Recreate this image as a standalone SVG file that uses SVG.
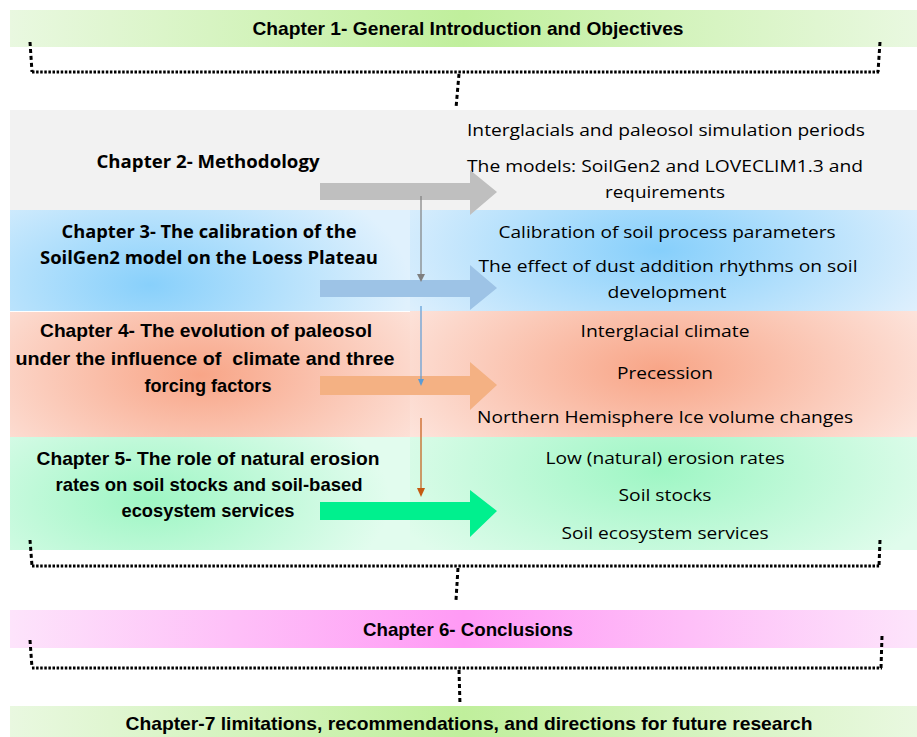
<svg xmlns="http://www.w3.org/2000/svg" width="917" height="737" viewBox="0 0 917 737">
<defs>
<linearGradient id="gGreen" x1="0" y1="0" x2="1" y2="0">
<stop offset="0" stop-color="#e9f8e0"/><stop offset="0.5" stop-color="#c0ef9c"/><stop offset="1" stop-color="#e9f8e0"/>
</linearGradient>
<linearGradient id="gPink" x1="0" y1="0" x2="1" y2="0">
<stop offset="0" stop-color="#fde4fb"/><stop offset="0.5" stop-color="#ff9af5"/><stop offset="1" stop-color="#fde4fb"/>
</linearGradient>
<radialGradient id="gBlueL" gradientUnits="userSpaceOnUse" cx="150" cy="285" r="260" gradientTransform="translate(150 285) scale(1 0.5) translate(-150 -285)">
<stop offset="0" stop-color="#88d0fb"/><stop offset="1" stop-color="#e0f1fd"/>
</radialGradient>
<radialGradient id="gBlueR" gradientUnits="userSpaceOnUse" cx="660" cy="250" r="290" gradientTransform="translate(660 250) scale(1 0.45) translate(-660 -250)">
<stop offset="0" stop-color="#86cffb"/><stop offset="1" stop-color="#dff0fd"/>
</radialGradient>
<radialGradient id="gSalL" gradientUnits="userSpaceOnUse" cx="200" cy="375" r="260" gradientTransform="translate(200 375) scale(1 0.5) translate(-200 -375)">
<stop offset="0" stop-color="#f8a587"/><stop offset="1" stop-color="#fde4dc"/>
</radialGradient>
<radialGradient id="gSalR" gradientUnits="userSpaceOnUse" cx="660" cy="370" r="290" gradientTransform="translate(660 370) scale(1 0.45) translate(-660 -370)">
<stop offset="0" stop-color="#f8a587"/><stop offset="1" stop-color="#fde4dc"/>
</radialGradient>
<radialGradient id="gMintL" gradientUnits="userSpaceOnUse" cx="150" cy="500" r="240" gradientTransform="translate(150 500) scale(1 0.5) translate(-150 -500)">
<stop offset="0" stop-color="#9ef6c4"/><stop offset="1" stop-color="#e2fcee"/>
</radialGradient>
<radialGradient id="gMintR" gradientUnits="userSpaceOnUse" cx="660" cy="470" r="290" gradientTransform="translate(660 470) scale(1 0.45) translate(-660 -470)">
<stop offset="0" stop-color="#9ef6c4"/><stop offset="1" stop-color="#e0fcec"/>
</radialGradient>
</defs>
<style>
.cal{font-family:"Liberation Sans","Arial",sans-serif;font-weight:bold;font-size:18.5px;fill:#000;text-anchor:middle;white-space:pre}
.seg{font-family:"Open Sans","Liberation Sans",sans-serif;font-weight:bold;font-size:17px;fill:#000;text-anchor:middle}
.reg{font-family:"Open Sans","Liberation Sans",sans-serif;font-size:16px;fill:#000;text-anchor:middle}
.dot{fill:none;stroke:#000;stroke-width:3;stroke-dasharray:2.5 1.6}
.dash{fill:none;stroke:#000;stroke-width:3;stroke-dasharray:4 3}
</style>

<g id="chapter1">
<rect x="10" y="10" width="907" height="37" fill="url(#gGreen)"/>
<text class="cal" x="468" y="35" textLength="431" lengthAdjust="spacingAndGlyphs">Chapter 1- General Introduction and Objectives</text>
</g>

<g id="chapter2">
<rect x="10" y="110" width="907" height="100" fill="#f2f2f2"/>
<text class="seg" x="208" y="168" textLength="223" lengthAdjust="spacingAndGlyphs">Chapter 2- Methodology</text>
<text class="reg" x="666" y="136" textLength="398" lengthAdjust="spacingAndGlyphs">Interglacials and paleosol simulation periods</text>
<text class="reg" x="665" y="172" textLength="396" lengthAdjust="spacingAndGlyphs">The models: SoilGen2 and LOVECLIM1.3 and</text>
<text class="reg" x="665" y="198" textLength="120" lengthAdjust="spacingAndGlyphs">requirements</text>
</g>

<g id="chapter3">
<rect x="10" y="210" width="400" height="101" fill="url(#gBlueL)"/>
<rect x="410" y="210" width="507" height="101" fill="url(#gBlueR)"/>
<text class="seg" x="209" y="238" textLength="295" lengthAdjust="spacingAndGlyphs">Chapter 3- The calibration of the</text>
<text class="seg" x="209" y="264" textLength="338" lengthAdjust="spacingAndGlyphs">SoilGen2 model on the Loess Plateau</text>
<text class="reg" x="667" y="238" textLength="337" lengthAdjust="spacingAndGlyphs">Calibration of soil process parameters</text>
<text class="reg" x="668" y="272" textLength="379" lengthAdjust="spacingAndGlyphs">The effect of dust addition rhythms on soil</text>
<text class="reg" x="667" y="298" textLength="119" lengthAdjust="spacingAndGlyphs">development</text>
</g>

<g id="chapter4">
<rect x="10" y="312" width="400" height="125" fill="url(#gSalL)"/>
<rect x="410" y="311" width="507" height="126" fill="url(#gSalR)"/>
<text class="cal" x="206" y="337" textLength="332" lengthAdjust="spacingAndGlyphs">Chapter 4- The evolution of paleosol</text>
<text class="cal" x="205" y="365" textLength="379" lengthAdjust="spacingAndGlyphs">under the influence of  climate and three</text>
<text class="cal" x="208" y="392" textLength="127" lengthAdjust="spacingAndGlyphs">forcing factors</text>
<text class="reg" x="665" y="337" textLength="169" lengthAdjust="spacingAndGlyphs">Interglacial climate</text>
<text class="reg" x="665" y="379" textLength="96" lengthAdjust="spacingAndGlyphs">Precession</text>
<text class="reg" x="665" y="423" textLength="376" lengthAdjust="spacingAndGlyphs">Northern Hemisphere Ice volume changes</text>
</g>

<g id="chapter5">
<rect x="10" y="437" width="400" height="113" fill="url(#gMintL)"/>
<rect x="410" y="437" width="507" height="113" fill="url(#gMintR)"/>
<text class="cal" x="208" y="465" textLength="343" lengthAdjust="spacingAndGlyphs">Chapter 5- The role of natural erosion</text>
<text class="cal" x="209" y="491" textLength="307" lengthAdjust="spacingAndGlyphs">rates on soil stocks and soil-based</text>
<text class="cal" x="208" y="517" textLength="173" lengthAdjust="spacingAndGlyphs">ecosystem services</text>
<text class="reg" x="665" y="464" textLength="239" lengthAdjust="spacingAndGlyphs">Low (natural) erosion rates</text>
<text class="reg" x="665" y="501" textLength="93" lengthAdjust="spacingAndGlyphs">Soil stocks</text>
<text class="reg" x="665" y="539" textLength="207" lengthAdjust="spacingAndGlyphs">Soil ecosystem services</text>
</g>

<g id="chapter6">
<rect x="10" y="610" width="907" height="38" fill="url(#gPink)"/>
<text class="cal" x="468" y="636" textLength="210" lengthAdjust="spacingAndGlyphs">Chapter 6- Conclusions</text>
</g>

<g id="chapter7">
<rect x="10" y="706" width="907" height="31" fill="url(#gGreen)"/>
<text class="cal" x="469" y="730" textLength="687" lengthAdjust="spacingAndGlyphs">Chapter-7 limitations, recommendations, and directions for future research</text>
</g>

<g id="connectors">
<path class="dash" d="M30 42 L32 72"/>
<path class="dot" d="M32 72 L880 72"/>
<path class="dash" d="M880 42 L878 72"/>
<path class="dash" d="M459 74 L456 108"/>
<path class="dash" d="M30 540 L32 566"/>
<path class="dot" d="M32 566 L880 566"/>
<path class="dash" d="M880 540 L879 566"/>
<path class="dash" d="M458 568 L456 600"/>
<path class="dash" d="M30 640 L32 668"/>
<path class="dot" d="M32 668 L882 668"/>
<path class="dash" d="M882 636 L881 668"/>
<path class="dash" d="M459 670 L460 705"/>

<path d="M320 183 H470 V170 L497 192 L470 215 V200 H320 Z" fill="#bfbfbf"/>
<path d="M320 280 H470 V265 L497 288 L470 310 V297 H320 Z" fill="#9dc3e6"/>
<path d="M320 376 H470 V362 L497 385 L470 410 V395 H320 Z" fill="#f4b183"/>
<path d="M320 502 H470 V490 L497 511 L470 537 V520 H320 Z" fill="#00f08e"/>

<line x1="421" y1="196" x2="421" y2="274" stroke="#7f7f7f" stroke-width="1.2"/>
<path d="M417 274 L425 274 L421 282 Z" fill="#7f7f7f"/>
<line x1="421" y1="306" x2="421" y2="380" stroke="#5b9bd5" stroke-width="1.2"/>
<path d="M418 379 L424 379 L421 386 Z" fill="#5b9bd5"/>
<line x1="421" y1="418" x2="421" y2="489" stroke="#c55a11" stroke-width="1.2"/>
<path d="M417 488 L425 488 L421 497 Z" fill="#c55a11"/>
</g>
</svg>
